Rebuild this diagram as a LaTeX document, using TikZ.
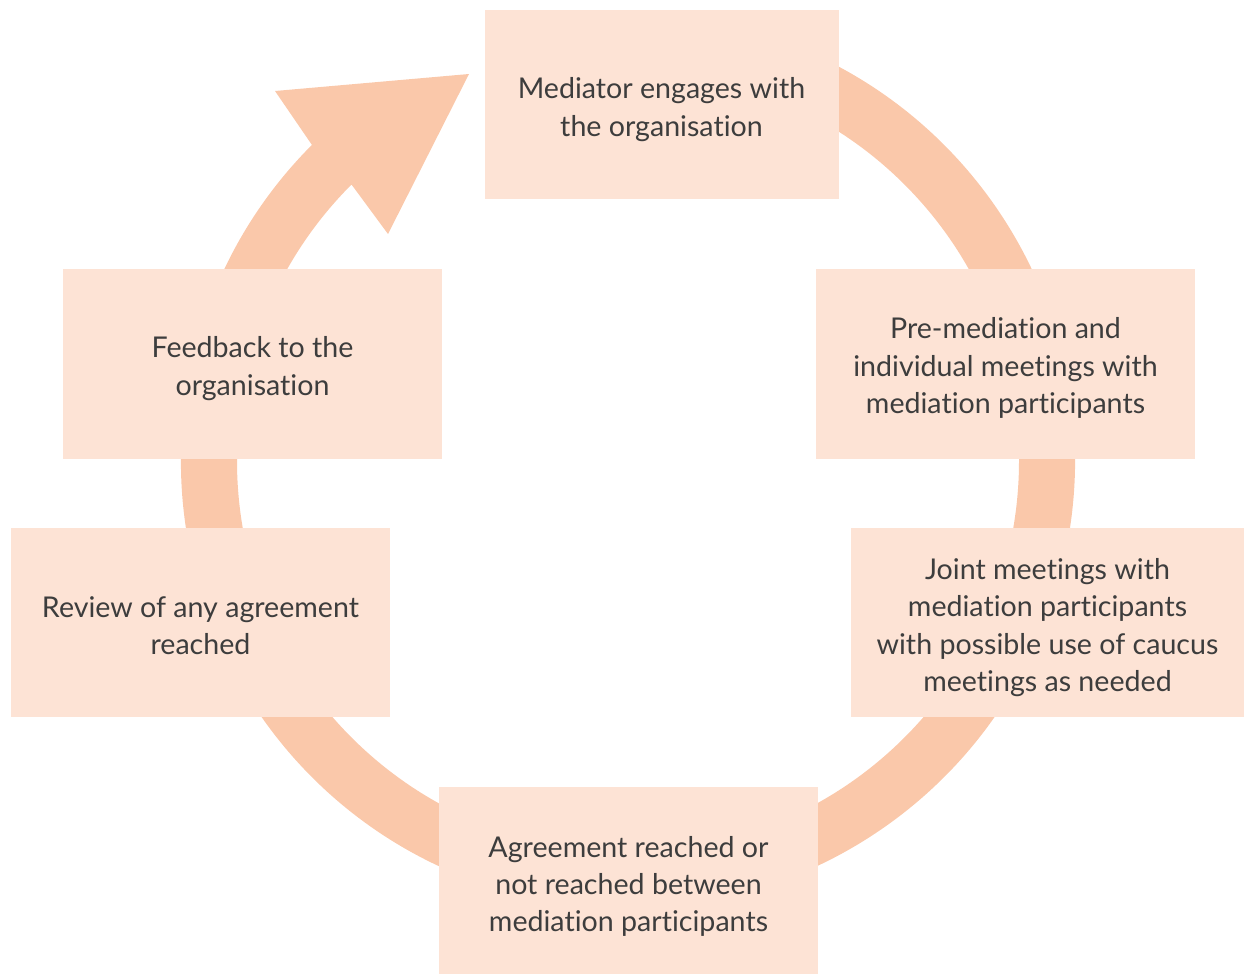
\documentclass[tikz,border=0pt]{standalone}
\usepackage{fontspec}
\setmainfont{Lato}[Ligatures={NoCommon}]
\usetikzlibrary{calc}
\definecolor{boxfill}{HTML}{FDE3D5}
\definecolor{ringcol}{HTML}{FAC8AA}
\definecolor{txt}{HTML}{3D3D3D}
\begin{document}
\begin{tikzpicture}[x=1pt,y=-1pt,
  stage/.style={fill=boxfill, draw=none, inner sep=0pt},
  stagetext/.style={inner sep=0pt, text=txt, align=center,
    font=\fontsize{28.6}{37.2}\selectfont},
  ringshape/.style={fill=ringcol, draw=none}]
\useasboundingbox (0,0) rectangle (1244,974);
\coordinate (c) at (628,461);
\coordinate (tip) at (469,74);
\coordinate (bl) at (275,91);
\coordinate (br) at (388,234);
% ring with arrowhead
\fill[ringshape] (bl) -- (tip) -- (br) -- ($(c)+(225:391)$)
  arc[start angle=225, end angle=-80, radius=391]
  -- ($(c)+(-80:447)$)
  arc[start angle=-80, end angle=225, radius=447] -- cycle;
% boxes
\node[stage, minimum width=354pt, minimum height=189pt] (n1) at (661.5,104.5) {};
\node[stage, minimum width=379pt, minimum height=190pt] (n2) at (1005.5,364) {};
\node[stage, minimum width=393pt, minimum height=189pt] (n3) at (1047.5,622.5) {};
\node[stage, minimum width=379pt, minimum height=187pt] (n4) at (628.5,880.5) {};
\node[stage, minimum width=379pt, minimum height=189pt] (n5) at (200.5,622.5) {};
\node[stage, minimum width=379pt, minimum height=190pt] (n6) at (252.5,364) {};
% texts
\node[stagetext, yshift=-5pt] (t1) at (n1) {Mediator engages with\\the organisation};
\node[stagetext, yshift=-4pt] (t2) at (n2) {Pre-mediation and\\individual meetings with\\mediation participants};
\node[stagetext, yshift=-5pt] (t3) at (n3) {Joint meetings with\\mediation participants\\with possible use of caucus\\meetings as needed};
\node[stagetext, yshift=-6pt] (t4) at (n4) {Agreement reached or\\not reached between\\mediation participants};
\node[stagetext, yshift=-3.5pt] (t5) at (n5) {Review of any agreement\\reached};
\node[stagetext, yshift=-4.5pt] (t6) at (n6) {Feedback to the\\organisation};
\end{tikzpicture}
\end{document}
